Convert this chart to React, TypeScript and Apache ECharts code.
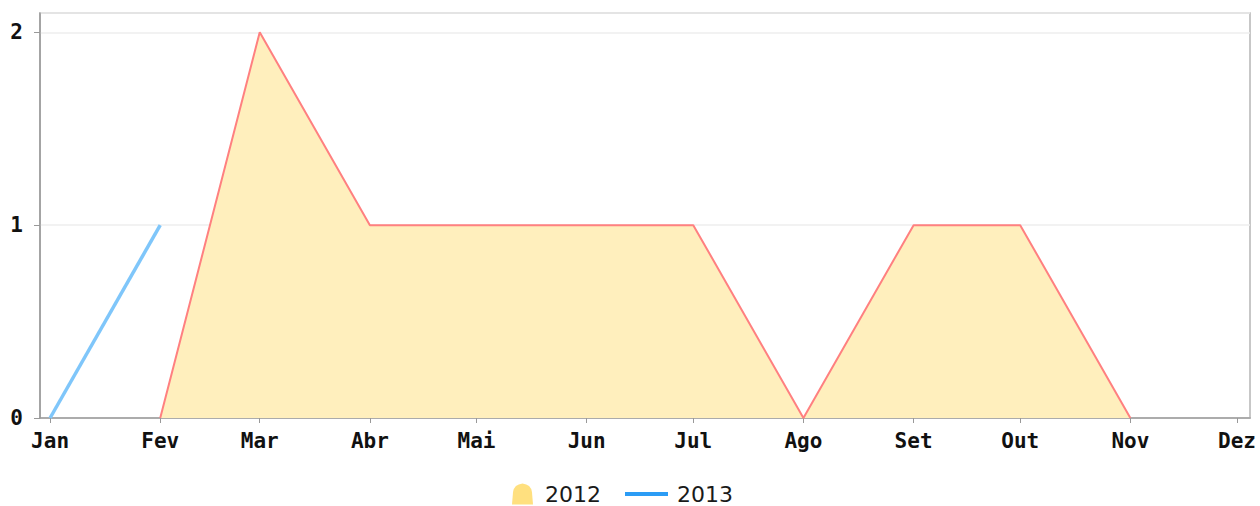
import React, { useEffect, useRef } from "react";
import * as echarts from "echarts";

const months = ["Jan", "Fev", "Mar", "Abr", "Mai", "Jun", "Jul", "Ago", "Set", "Out", "Nov", "Dez"];
const values2012: (number | null)[] = [null, 0, 2, 1, 1, 1, 1, 0, 1, 1, 0, null];
const values2013: (number | null)[] = [0, 1, null, null, null, null, null, null, null, null, null, null];
const yTicks = [0, 1, 2];

const toData = (vals: (number | null)[]) =>
  months.map((_, i) => [new Date(2013, i, 1).getTime(), vals[i]]);

export default function App() {
  const ref = useRef<HTMLDivElement>(null);
  useEffect(() => {
    if (!ref.current) return;
    const chart = echarts.init(ref.current, undefined, { renderer: "svg" });
    const mono = "'DejaVu Sans Mono', monospace";
    const legendText = {
      fontFamily: "'DejaVu Sans', sans-serif", fontSize: 22, lineHeight: 20, color: "#1a1a1a",
    };
    chart.setOption({
      animation: false,
      grid: {
        left: 40, right: 10, top: 13, bottom: 88, show: true,
        borderColor: "#b5b5b5", borderWidth: 1.5, containLabel: false, outerBoundsMode: "none",
      },
      legend: [
        {
          data: [{ name: "2012", icon: "path://M0,20 L1,8 Q2,1 10,0 Q18,1 19,8 L20,20 Z", itemStyle: { color: "#ffe07f" } }],
          left: 512, top: 483, padding: 0, itemWidth: 21, itemHeight: 21, itemGap: 10,
          textStyle: { ...legendText, padding: [0, 0, 0, 7] },
        },
        {
          data: [{ name: "2013", icon: "rect", itemStyle: { color: "#2b9cf5" } }],
          left: 625, top: 483, padding: 0, itemWidth: 43, itemHeight: 4, itemGap: 10,
          textStyle: { ...legendText, padding: [0, 0, 0, 4] },
        },
      ],
      xAxis: {
        type: "time",
        min: new Date(2012, 11, 29, 4).getTime(),
        max: new Date(2013, 11, 4, 16).getTime(),
        minInterval: 28 * 86400000,
        maxInterval: 31 * 86400000,
        splitNumber: 12,
        axisLine: { lineStyle: { color: "#999", width: 1.5 } },
        axisTick: { show: true, length: 5, lineStyle: { color: "#999" } },
        splitLine: { show: false },
        axisLabel: {
          fontFamily: mono, fontSize: 21, fontWeight: "bold", color: "#111", margin: 12,
          showMinLabel: false, showMaxLabel: false, hideOverlap: false,
          formatter: (v: number) => months[new Date(v).getMonth()],
        },
      },
      yAxis: {
        type: "value",
        min: 0,
        max: 2.1,
        interval: 1,
        axisLine: { show: true, lineStyle: { color: "#999", width: 1.5 } },
        axisTick: { show: true, length: 6, lineStyle: { color: "#999" } },
        splitLine: { show: true, lineStyle: { color: "#eeeeee", width: 1.5 } },
        axisLabel: {
          fontFamily: mono, fontSize: 21, fontWeight: "bold", color: "#111", margin: 17, showMaxLabel: false,
          formatter: (v: number) => (yTicks.includes(v) ? String(v) : ""),
        },
      },
      series: [
        {
          name: "2012",
          type: "line",
          data: toData(values2012),
          showSymbol: false,
          symbol: "none",
          itemStyle: { color: "#ffe07f" },
          lineStyle: { color: "#ff8080", width: 2 },
          areaStyle: { color: "#ffefbd", opacity: 1 },
        },
        {
          name: "2013",
          type: "line",
          data: toData(values2013),
          showSymbol: false,
          symbol: "none",
          itemStyle: { color: "#2b9cf5" },
          lineStyle: { color: "#7fc6fa", width: 3.5 },
        },
      ],
    });
    return () => chart.dispose();
  }, []);
  return <div ref={ref} style={{ width: 1260, height: 506, position: "absolute", left: 0, top: 0 }} />;
}
